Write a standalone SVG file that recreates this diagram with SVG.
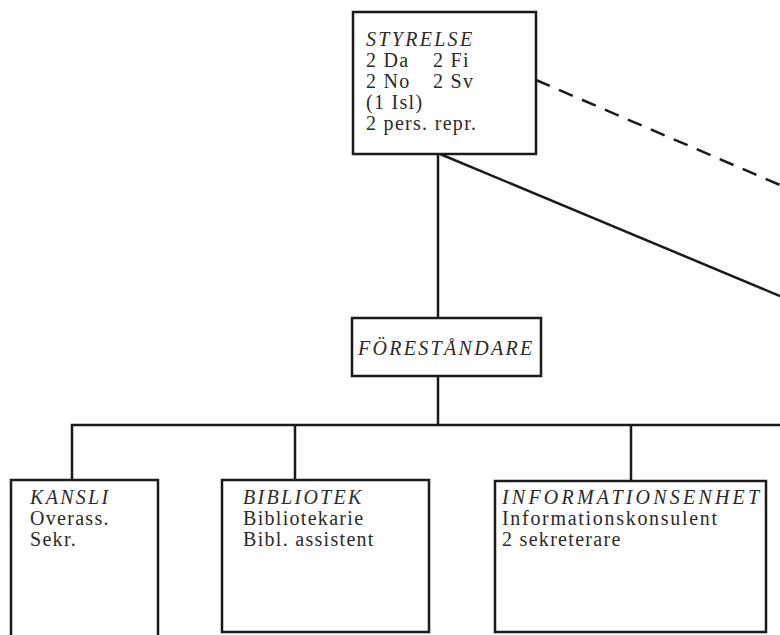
<svg xmlns="http://www.w3.org/2000/svg" width="780" height="635" viewBox="0 0 780 635">
<style>
.box{fill:#fff;stroke:#1a1a1a;stroke-width:2.5}
.ln{fill:none;stroke:#1a1a1a;stroke-width:2.5}
.dash{fill:none;stroke:#1a1a1a;stroke-width:2.5;stroke-dasharray:15 10}
text{font-family:"Liberation Serif","Times New Roman",serif;font-size:20px;fill:#2a2a2a;letter-spacing:1.3px}
.h{font-style:italic;letter-spacing:2.3px}
</style>
<rect width="780" height="635" fill="#fff"/>
<g id="connectors">
<line class="ln" x1="438" y1="154" x2="438" y2="318"/>
<line class="ln" x1="440" y1="154" x2="780" y2="296"/>
<line class="dash" x1="536" y1="80" x2="780" y2="185"/>
<line class="ln" x1="438" y1="376" x2="438" y2="425"/>
<polyline class="ln" points="72,480 72,425 780,425"/>
<line class="ln" x1="295" y1="425" x2="295" y2="480"/>
<line class="ln" x1="631" y1="425" x2="631" y2="481"/>
</g>
<g id="styrelse">
<rect class="box" x="353" y="12" width="183" height="142"/>
<text class="h" x="366" y="46">STYRELSE</text>
<text x="366" y="67">2 Da</text><text x="433" y="67">2 Fi</text>
<text x="366" y="88">2 No</text><text x="433" y="88">2 Sv</text>
<text x="366" y="109">(1 Isl)</text>
<text x="366" y="130">2 pers. repr.</text>
</g>
<g id="forestandare">
<rect class="box" x="352" y="318" width="189" height="58"/>
<text class="h" x="358" y="355">FÖRESTÅNDARE</text>
</g>
<g id="kansli">
<path class="box" d="M11,640 V480 H158 V640"/>
<text class="h" x="30" y="504">KANSLI</text>
<text x="30" y="525">Overass.</text>
<text x="30" y="546">Sekr.</text>
</g>
<g id="bibliotek">
<rect class="box" x="222" y="480" width="207" height="152"/>
<text class="h" x="243" y="504">BIBLIOTEK</text>
<text x="243" y="525">Bibliotekarie</text>
<text x="243" y="546">Bibl. assistent</text>
</g>
<g id="informationsenhet">
<rect class="box" x="495" y="481" width="271" height="151"/>
<text class="h" x="502" y="504" style="letter-spacing:3.2px">INFORMATIONSENHET</text>
<text x="502" y="525" style="letter-spacing:1.7px">Informationskonsulent</text>
<text x="502" y="546">2 sekreterare</text>
</g>
</svg>
